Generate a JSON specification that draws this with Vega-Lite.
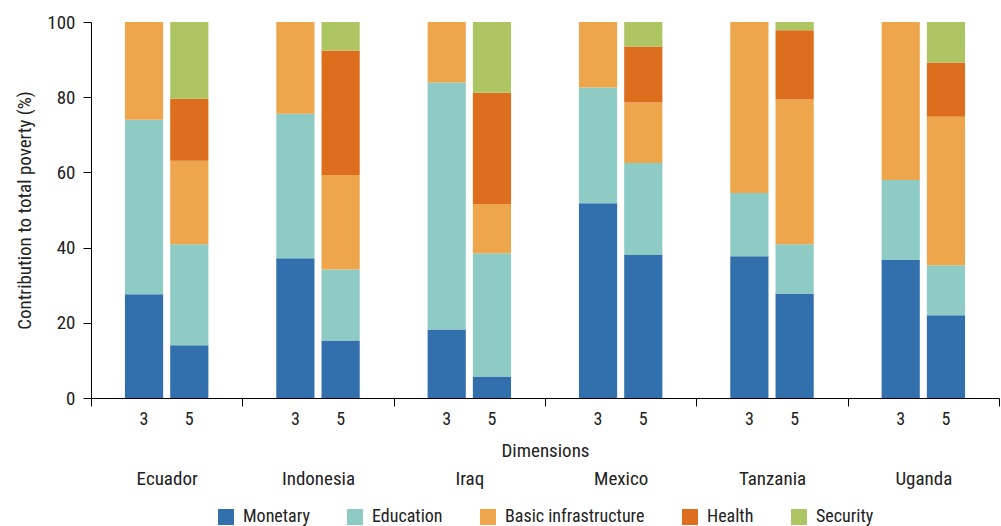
{
  "$schema": "https://vega.github.io/schema/vega-lite/v6.json",
  "width": 908,
  "height": 376,
  "padding": {"left": 15, "top": 13, "right": 0, "bottom": 0},
  "autosize": {"type": "pad"},
  "config": {
    "font": "Roboto Condensed, Liberation Sans Narrow, Roboto",
    "view": {"stroke": null},
    "axis": {"domainColor": "#000", "tickColor": "#000", "labelColor": "#222", "titleColor": "#222", "labelFontSize": 19, "titleFontSize": 19, "titleFontWeight": "normal", "grid": false},
    "legend": {"labelFontSize": 18, "labelColor": "#222", "layout": {"bottom": {"anchor": "middle"}}}
  },
  "datasets": {
    "cats": [
      {"cat": "Monetary", "rank": 1},
      {"cat": "Education", "rank": 2},
      {"cat": "Basic infrastructure", "rank": 3},
      {"cat": "Health", "rank": 4},
      {"cat": "Security", "rank": 5}
    ]
  },
  "data": {"values": [
    {"country": "Ecuador", "dim": "3", "cat": "Monetary", "value": 27.6},
    {"country": "Ecuador", "dim": "3", "cat": "Education", "value": 46.4},
    {"country": "Ecuador", "dim": "3", "cat": "Basic infrastructure", "value": 26.0},
    {"country": "Ecuador", "dim": "5", "cat": "Monetary", "value": 14.0},
    {"country": "Ecuador", "dim": "5", "cat": "Education", "value": 26.9},
    {"country": "Ecuador", "dim": "5", "cat": "Basic infrastructure", "value": 22.2},
    {"country": "Ecuador", "dim": "5", "cat": "Health", "value": 16.5},
    {"country": "Ecuador", "dim": "5", "cat": "Security", "value": 20.4},
    {"country": "Indonesia", "dim": "3", "cat": "Monetary", "value": 37.2},
    {"country": "Indonesia", "dim": "3", "cat": "Education", "value": 38.4},
    {"country": "Indonesia", "dim": "3", "cat": "Basic infrastructure", "value": 24.4},
    {"country": "Indonesia", "dim": "5", "cat": "Monetary", "value": 15.3},
    {"country": "Indonesia", "dim": "5", "cat": "Education", "value": 18.9},
    {"country": "Indonesia", "dim": "5", "cat": "Basic infrastructure", "value": 25.1},
    {"country": "Indonesia", "dim": "5", "cat": "Health", "value": 33.1},
    {"country": "Indonesia", "dim": "5", "cat": "Security", "value": 7.6},
    {"country": "Iraq", "dim": "3", "cat": "Monetary", "value": 18.2},
    {"country": "Iraq", "dim": "3", "cat": "Education", "value": 65.7},
    {"country": "Iraq", "dim": "3", "cat": "Basic infrastructure", "value": 16.1},
    {"country": "Iraq", "dim": "5", "cat": "Monetary", "value": 5.7},
    {"country": "Iraq", "dim": "5", "cat": "Education", "value": 32.8},
    {"country": "Iraq", "dim": "5", "cat": "Basic infrastructure", "value": 13.1},
    {"country": "Iraq", "dim": "5", "cat": "Health", "value": 29.6},
    {"country": "Iraq", "dim": "5", "cat": "Security", "value": 18.8},
    {"country": "Mexico", "dim": "3", "cat": "Monetary", "value": 51.8},
    {"country": "Mexico", "dim": "3", "cat": "Education", "value": 30.8},
    {"country": "Mexico", "dim": "3", "cat": "Basic infrastructure", "value": 17.4},
    {"country": "Mexico", "dim": "5", "cat": "Monetary", "value": 38.0},
    {"country": "Mexico", "dim": "5", "cat": "Education", "value": 24.5},
    {"country": "Mexico", "dim": "5", "cat": "Basic infrastructure", "value": 16.1},
    {"country": "Mexico", "dim": "5", "cat": "Health", "value": 14.9},
    {"country": "Mexico", "dim": "5", "cat": "Security", "value": 6.5},
    {"country": "Tanzania", "dim": "3", "cat": "Monetary", "value": 37.7},
    {"country": "Tanzania", "dim": "3", "cat": "Education", "value": 16.8},
    {"country": "Tanzania", "dim": "3", "cat": "Basic infrastructure", "value": 45.5},
    {"country": "Tanzania", "dim": "5", "cat": "Monetary", "value": 27.8},
    {"country": "Tanzania", "dim": "5", "cat": "Education", "value": 13.1},
    {"country": "Tanzania", "dim": "5", "cat": "Basic infrastructure", "value": 38.5},
    {"country": "Tanzania", "dim": "5", "cat": "Health", "value": 18.4},
    {"country": "Tanzania", "dim": "5", "cat": "Security", "value": 2.2},
    {"country": "Uganda", "dim": "3", "cat": "Monetary", "value": 36.7},
    {"country": "Uganda", "dim": "3", "cat": "Education", "value": 21.3},
    {"country": "Uganda", "dim": "3", "cat": "Basic infrastructure", "value": 42.0},
    {"country": "Uganda", "dim": "5", "cat": "Monetary", "value": 22.0},
    {"country": "Uganda", "dim": "5", "cat": "Education", "value": 13.3},
    {"country": "Uganda", "dim": "5", "cat": "Basic infrastructure", "value": 39.5},
    {"country": "Uganda", "dim": "5", "cat": "Health", "value": 14.4},
    {"country": "Uganda", "dim": "5", "cat": "Security", "value": 10.8}
  ]},
  "layer": [
    {
      "transform": [{"lookup": "cat", "from": {"data": {"name": "cats"}, "key": "cat", "fields": ["rank"]}}],
      "mark": {"type": "bar"},
      "encoding": {
        "x": {"field": "country", "type": "nominal", "sort": null,
          "scale": {"paddingInner": 0, "paddingOuter": 0},
          "axis": {"title": "Dimensions", "labelAngle": 0, "labelPadding": 63, "tickBand": "extent", "tickSize": 8, "titleY": 43, "titleFontSize": 19, "titleFontWeight": "normal", "labelFontSize": 19}},
        "xOffset": {"field": "dim", "type": "nominal", "scale": {"paddingInner": 0.156, "paddingOuter": 0.75}},
        "y": {"field": "value", "type": "quantitative", "stack": "zero",
          "scale": {"domain": [0, 100], "nice": false},
          "axis": {"title": "Contribution to total poverty (%)", "values": [0, 20, 40, 60, 80, 100], "tickSize": 8, "labelPadding": 8, "titlePadding": 12}},
        "order": {"field": "rank", "type": "quantitative", "sort": "ascending"},
        "color": {"field": "cat", "type": "nominal",
          "sort": ["Monetary", "Education", "Basic infrastructure", "Health", "Security"],
          "scale": {"domain": ["Monetary", "Education", "Basic infrastructure", "Health", "Security"], "range": ["#326fad", "#8fcbc5", "#eda64b", "#dd6e1e", "#adc563"]},
          "legend": {"orient": "bottom", "direction": "horizontal", "title": null, "symbolType": "square", "symbolSize": 256, "symbolStrokeWidth": 0, "columnPadding": 36, "labelOffset": 8, "offset": 20}}
      }
    },
    {
      "transform": [{"aggregate": [{"op": "count", "as": "n"}], "groupby": ["country", "dim"]}],
      "mark": {"type": "text", "dy": 22, "fontSize": 18, "color": "#222", "baseline": "middle"},
      "encoding": {
        "x": {"field": "country", "type": "nominal", "sort": null,
          "axis": {"title": "Dimensions", "labelAngle": 0, "labelPadding": 63, "tickBand": "extent", "tickSize": 8, "titleY": 43, "titleFontSize": 19, "titleFontWeight": "normal", "labelFontSize": 19}},
        "xOffset": {"field": "dim", "type": "nominal"},
        "y": {"datum": 0, "type": "quantitative"},
        "text": {"field": "dim"}
      }
    }
  ]
}
